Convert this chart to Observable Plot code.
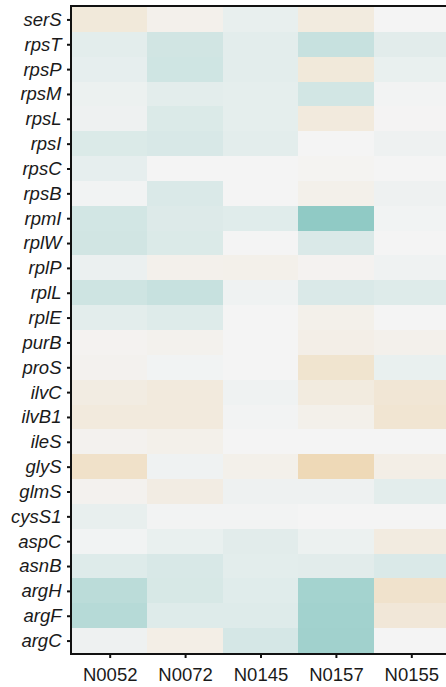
<!DOCTYPE html>
<html>
<head>
<meta charset="utf-8">
<script src="https://cdn.jsdelivr.net/npm/d3@7"></script>
<script src="https://cdn.jsdelivr.net/npm/@observablehq/plot@0.6"></script>
<style>
  html, body { margin: 0; padding: 0; background: #fff; overflow: hidden; }
  #chart svg { display: block; max-width: none !important; }
</style>
</head>
<body>
<div id="chart"></div>
<script>
const genes = ["serS","rpsT","rpsP","rpsM","rpsL","rpsI","rpsC","rpsB","rpmI","rplW","rplP","rplL","rplE","purB","proS","ilvC","ilvB1","ileS","glyS","glmS","cysS1","aspC","asnB","argH","argF","argC"];
const samples = ["N0052","N0072","N0145","N0157","N0155"];

// values per sample, in gene order (positive = teal, negative = tan)
const vN0052 = [-0.18,0.11,0.09,0.05,0.04,0.16,0.09,0.02,0.22,0.23,0.06,0.25,0.11,-0.03,-0.04,-0.13,-0.16,-0.04,-0.30,-0.04,0.08,0.02,0.14,0.37,0.40,0.04];
const vN0072 = [-0.06,0.23,0.24,0.11,0.16,0.18,0.00,0.17,0.15,0.16,-0.06,0.29,0.14,-0.05,0.02,-0.16,-0.16,-0.07,0.03,-0.12,0.01,0.07,0.18,0.19,0.14,-0.10];
const vN0145 = [0.08,0.11,0.11,0.10,0.10,0.11,0.00,0.00,0.13,0.00,-0.07,0.03,0.00,0.00,0.00,0.03,0.01,0.00,-0.07,0.04,0.01,0.12,0.11,0.13,0.14,0.20];
const vN0157 = [-0.15,0.29,-0.18,0.22,-0.16,0.00,-0.02,-0.07,0.65,0.17,-0.03,0.17,-0.07,-0.09,-0.26,-0.15,-0.07,0.00,-0.43,0.04,0.00,0.05,0.12,0.52,0.53,0.54];
const vN0155 = [0.00,0.12,0.07,0.01,-0.01,0.04,0.00,0.04,0.02,0.00,0.03,0.14,0.00,-0.06,0.07,-0.22,-0.24,0.00,-0.10,0.11,0.00,-0.14,0.17,-0.28,-0.20,0.00];

const series = [vN0052, vN0072, vN0145, vN0157, vN0155];
const table = [];
samples.forEach((s, i) => genes.forEach((g, j) => table.push({sample: s, gene: g, value: series[i][j]})));

const chart = Plot.plot({
  width: 449,
  height: 687,
  marginLeft: 72,
  marginRight: 0,
  marginTop: 7,
  marginBottom: 34,
  style: {fontFamily: "'Liberation Sans', Arial, sans-serif", fontSize: "18.5px", color: "#1a1a1a", background: "#fff", overflow: "hidden"},
  x: {domain: samples, padding: 0, round: false, label: null},
  y: {domain: genes, padding: 0, round: false, label: null},
  color: {type: "linear", domain: [-1, 0, 1], range: ["#e6b566", "#f4f4f4", "#5ab4ac"], interpolate: "rgb"},
  marks: [
    Plot.cell(table, {x: "sample", y: "gene", fill: "value", inset: 0, shapeRendering: "crispEdges"}),
    Plot.axisY({tickSize: 5, tickPadding: 6, fontStyle: "italic", fontSize: 18.5, stroke: "#111", strokeWidth: 2, label: null}),
    Plot.axisX({tickSize: 5, tickPadding: 9, fontSize: 18.5, stroke: "#111", strokeWidth: 2, label: null}),
    Plot.rect([0], {x1: () => samples[0], x2: () => samples[4], y1: () => genes[0], y2: () => genes[25], stroke: "#111", strokeWidth: 2, fill: "none", insetTop: -1, insetLeft: -1, insetBottom: -1, insetRight: -12})
  ]
});
document.getElementById("chart").appendChild(chart);
</script>
</body>
</html>
